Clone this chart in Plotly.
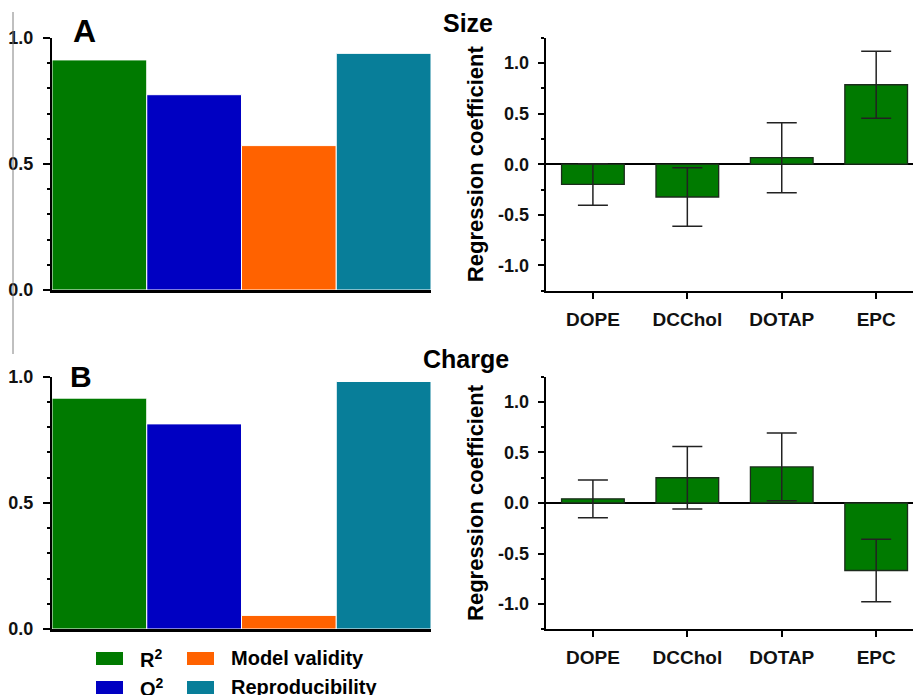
import plotly.graph_objects as go

# ---------------- data ----------------
metrics = ["R<sup>2</sup>", "Q<sup>2</sup>", "Model validity", "Reproducibility"]
metric_colors = ["#007A00", "#0000C2", "#FF6200", "#087E99"]
size_metrics = [0.913, 0.775, 0.573, 0.939]
charge_metrics = [0.915, 0.813, 0.054, 0.981]

lipids = ["DOPE", "DCChol", "DOTAP", "EPC"]
size_coef = [-0.20, -0.324, 0.064, 0.785]
size_err = [0.205, 0.288, 0.345, 0.33]
charge_coef = [0.041, 0.25, 0.357, -0.668]
charge_err = [0.187, 0.31, 0.335, 0.31]

FONT = "Liberation Sans, Arial, sans-serif"
W, H = 913, 695

def px_x(p):
    return p / W

def px_y(p):
    return 1 - p / H

fig = go.Figure()

# left panels (model statistics)
for vals, ax in [(size_metrics, ""), (charge_metrics, "3")]:
    fig.add_trace(go.Bar(
        x=[0, 1, 2, 3], y=vals, width=[1] * 4,
        marker=dict(color=metric_colors, line=dict(color="white", width=1)),
        xaxis="x" + ax, yaxis="y" + ax, showlegend=False,
    ))

# right panels (regression coefficients)
for coef, err, ax in [(size_coef, size_err, "2"), (charge_coef, charge_err, "4")]:
    fig.add_trace(go.Bar(
        x=lipids, y=coef, width=[0.664] * 4,
        marker=dict(color="#007A00", line=dict(color="#1C2B1C", width=1.3)),
        error_y=dict(type="data", array=err, color="#222222", thickness=1.5, width=15),
        xaxis="x" + ax, yaxis="y" + ax, showlegend=False,
    ))

left_dom = [px_x(52), px_x(431)]
right_dom = [px_x(545.7), 1.0]
top_dom_l = [px_y(290), px_y(38)]
bot_dom_l = [px_y(629), px_y(376.7)]
top_dom_r = [px_y(290.7), px_y(37.7)]
bot_dom_r = [px_y(629.3), px_y(376.7)]

def left_y(dom, anchor):
    return dict(domain=dom, anchor=anchor, range=[0, 1.0], showgrid=False, zeroline=False,
                automargin=False,
                showline=True, linewidth=2, linecolor="black",
                ticks="outside", ticklen=7, tickwidth=2, tickcolor="black",
                tickvals=[0, 0.5, 1.0], ticktext=["0.0", "0.5", "1.0"],
                minor=dict(dtick=0.1, ticks="outside", ticklen=3, tickwidth=1.5, tickcolor="black", showgrid=False),
                tickfont=dict(family=FONT, size=18, color="#111111", weight=700), ticklabelstandoff=6)

def left_x(dom, anchor):
    return dict(domain=dom, anchor=anchor, range=[-0.5, 3.5], showgrid=False, zeroline=False,
                automargin=False,
                showline=True, linewidth=2.5, linecolor="black", showticklabels=False, ticks="")

def right_y(dom, anchor):
    return dict(domain=dom, anchor=anchor, range=[-1.25, 1.25], showgrid=False,
                automargin=False,
                zeroline=True, zerolinecolor="black", zerolinewidth=2,
                showline=True, linewidth=2, linecolor="black",
                ticks="outside", ticklen=6, tickwidth=2, tickcolor="black",
                tickvals=[-1.0, -0.5, 0, 0.5, 1.0], ticktext=["-1.0", "-0.5", "0.0", "0.5", "1.0"],
                minor=dict(dtick=0.25, tick0=0, ticks="outside", ticklen=3, tickwidth=1.5, tickcolor="black", showgrid=False),
                tickfont=dict(family=FONT, size=18, color="#111111", weight=700), ticklabelstandoff=5,
                title=dict(text="Regression coefficient", font=dict(family=FONT, size=22, color="black", weight=700),
                           standoff=8))

def right_x(dom, anchor):
    return dict(domain=dom, anchor=anchor, range=[-0.5, 3.39], showgrid=False, zeroline=False,
                automargin=False,
                showline=True, linewidth=2, linecolor="black", type="category",
                ticks="outside", ticklen=6, tickwidth=2, tickcolor="black",
                tickfont=dict(family=FONT, size=19, color="#111111", weight=700), ticklabelstandoff=4)

fig.update_layout(
    width=W, height=H, margin=dict(l=0, r=0, t=0, b=0, pad=0, autoexpand=False),
    paper_bgcolor="white", plot_bgcolor="white",
    xaxis=left_x(left_dom, "y"), yaxis=left_y(top_dom_l, "x"),
    xaxis3=left_x(left_dom, "y3"), yaxis3=left_y(bot_dom_l, "x3"),
    xaxis2=right_x(right_dom, "y2"), yaxis2=right_y(top_dom_r, "x2"),
    xaxis4=right_x(right_dom, "y4"), yaxis4=right_y(bot_dom_r, "x4"),
    showlegend=False,
)

annotations = []
shapes = []

def ann(text, x, y, size, xanchor="left", yanchor="middle"):
    annotations.append(dict(text=text, x=px_x(x), y=px_y(y), xref="paper", yref="paper",
                            xanchor=xanchor, yanchor=yanchor, showarrow=False,
                            font=dict(family=FONT, size=size, color="black", weight=700)))

# panel letters and titles
ann("A", 71, 31, 32)
ann("B", 68, 376, 30)
ann("Size", 441, 23, 25)
ann("Charge", 421, 359, 25)

# manual legend (2 x 2)
legend_pos = [(96, 652), (96, 681), (187, 652), (187, 681)]
for (lx, ly), name, col in zip(legend_pos, metrics, metric_colors):
    shapes.append(dict(type="rect", xref="paper", yref="paper",
                       x0=px_x(lx), x1=px_x(lx + 27), y0=px_y(ly), y1=px_y(ly + 13),
                       fillcolor=col, line=dict(width=0)))
    ann(name, lx + 42, ly + 6, 20)

# thin grey frame line at the left
shapes.append(dict(type="line", xref="paper", yref="paper", x0=px_x(13), x1=px_x(13),
                   y0=px_y(12), y1=px_y(354), line=dict(color="#808080", width=1)))

fig.update_layout(annotations=annotations, shapes=shapes)
fig.write_html("out.html")
